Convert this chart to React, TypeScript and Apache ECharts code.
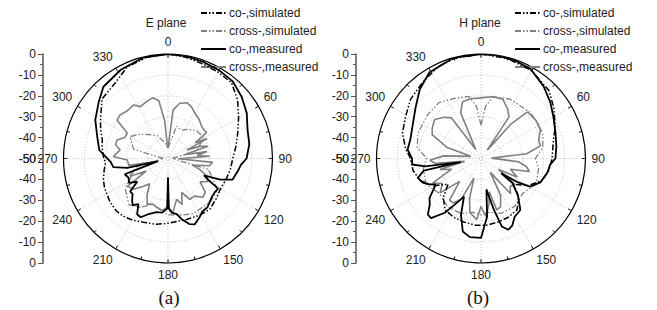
import React, { useEffect, useRef } from "react";
import * as echarts from "echarts";

// [angle (deg), level (dB)]
const coMeasA: number[][] = [
  [0, 0], [10, -0.3], [20, -0.8], [30, -1.2], [40, -1.8], [50, -4], [60, -6.5], [70, -9.5],
  [80, -10.5], [90, -12.4], [95, -15], [100, -16], [108, -17.5], [112, -23], [115, -31], [118, -28],
  [121, -22], [126, -22.4], [132, -22], [141, -20], [147, -19.8], [152, -18], [158, -16], [162, -17],
  [167, -20], [171, -23], [176, -24], [179, -26], [180, -41], [181, -26], [186, -24], [192, -23.8],
  [200, -21.5], [205, -19], [209, -19.5], [213, -24], [217, -22], [220, -23.3], [225, -26], [229, -26],
  [233, -31.6], [238, -28], [244, -29], [250, -28], [255, -45], [257, -30], [261, -23.5], [267, -22.4],
  [272, -20], [277, -16.9], [287, -14.6], [298, -10.6], [309, -7.3], [318, -3.8], [332, -1.9],
  [346, -0.3], [360, 0],
];
const coSimA: number[][] = [
  [0, 0], [10, -0.8], [20, -1.8], [30, -2.2], [40, -2.7], [50, -6.5], [60, -11], [70, -14.5],
  [80, -17], [90, -19], [100, -19.7], [110, -20.5], [120, -21], [130, -20], [140, -18.6], [150, -18.8],
  [163, -19.5], [180, -19], [190, -18], [201, -17.3], [210, -16], [218, -15], [225, -14.8], [233, -15.3],
  [245, -16.5], [252, -17.5], [260, -19], [266, -20], [272, -19], [280, -18], [286, -17.3], [293, -15],
  [300, -12.7], [312, -7.5], [325, -5.9], [336, -2], [348, -0.5], [360, 0],
];
const crossSimA: number[][] = [
  [0, -45], [15, -34], [25, -35], [35, -33], [45, -31], [60, -30], [75, -36], [90, -48], [105, -30],
  [122, -22], [135, -21], [155, -21], [165, -22], [180, -23], [198, -27], [210, -23], [220, -21],
  [235, -25], [255, -34], [270, -48], [285, -33], [300, -29], [310, -32], [320, -35], [335, -38],
  [348, -42], [360, -45],
];
const crossMeasA: number[][] = [
  [0, -45], [3, -45], [6, -26.6], [12, -23], [19, -21.8], [25, -23], [30, -24.6], [38, -26], [47, -27.8],
  [53, -28], [56, -27.7], [60, -35], [63, -29], [66, -40], [69, -33.8], [73, -30], [77, -42], [80, -31],
  [84, -36], [87, -30], [91, -45], [95, -28.6], [100, -30], [105, -38], [109, -34], [114, -30], [120, -28],
  [126, -31], [132, -26], [138, -25], [145, -28], [152, -27.8], [158, -32.5], [163, -27], [168, -30],
  [175, -24], [180, -27], [186, -25], [193, -26], [199, -27], [204.5, -26], [210, -30], [216, -35],
  [222, -32], [228, -28], [235.6, -26.4], [240, -38], [245, -30], [250, -32], [255, -45], [260, -31],
  [268, -30.5], [272, -23.8], [280, -26.7], [285, -24], [290, -24], [296, -27], [302, -27], [307, -19.5],
  [312, -19], [320, -20], [327, -19.5], [332, -21.9], [339, -21], [346, -20], [351, -22], [355, -32],
  [358, -45], [360, -45],
];

const coMeasB: number[][] = [
  [0, 0], [9, 0], [20, -0.5], [29, -1], [41, -4.3], [51, -7.3], [60, -10], [71, -12.3], [81, -13.5],
  [90, -14.4], [95, -16.8], [102, -17.5], [112, -19.4], [120, -23], [123, -29.5], [126, -38], [128, -31],
  [135, -25], [142.6, -19], [150, -17.8], [155, -14.6], [159, -13.5], [163, -16], [166, -25], [170, -35],
  [174, -22], [180, -12], [188, -12], [194, -14], [199.6, -21.4], [204, -30], [208, -26.5], [213.7, -18.8],
  [220, -12.8], [223.4, -13], [228, -17], [232.6, -19], [237, -23], [240, -25], [244, -22], [247.5, -19.8],
  [253, -18.4], [258, -22], [260, -40], [262, -23], [265, -17], [270, -17], [277, -14.6], [285, -15],
  [296.6, -13.5], [308, -10.3], [318.5, -5.8], [329, -2], [345, 0], [360, 0],
];
const coSimB: number[][] = [
  [0, 0], [15, -0.5], [30, -1.5], [45, -4], [55, -7.5], [66.6, -11.3], [77, -14.5], [90, -16], [100, -17],
  [110, -19], [120, -24], [128, -30], [136, -24], [145, -20], [155, -19], [165, -18.5], [175, -18],
  [185, -18], [195, -18.5], [205, -19], [215, -20], [224, -24], [232, -30], [240, -24], [250, -19],
  [260, -17], [271, -16], [277, -13.7], [288, -10.5], [299, -8.7], [310, -6], [322.7, -4], [335, -1.5],
  [345, -0.5], [360, 0],
];
const crossSimB: number[][] = [
  [0, -34], [5, -25], [11, -19.7], [26, -18.4], [47, -17.7], [60, -18], [70, -18.4], [80, -20], [90, -24],
  [100, -22], [115, -21], [130, -24], [145, -22], [160, -22], [172, -24], [180, -23], [188, -24],
  [200, -22], [215, -22], [230, -24], [245, -21], [260, -22], [270, -24], [280, -19], [292, -17.5],
  [309, -17], [323, -16.5], [335, -18.4], [349, -19.7], [355, -25], [360, -34],
];
const crossMeasB: number[][] = [
  [0, -21], [10, -20], [20, -19.7], [28, -23], [34, -26], [37, -45], [41, -28], [45, -18.5], [55, -18],
  [64, -18.4], [72, -21], [78, -21], [84, -28], [88, -45], [95, -32], [100, -28], [105, -26], [110, -35],
  [117, -30.6], [122, -40], [127, -30], [134, -30.6], [140, -28], [146, -42], [152, -30], [158, -25],
  [163, -24.3], [166, -33.6], [170, -28], [175, -22], [180, -27], [184, -20.7], [191.5, -23.5], [196, -30],
  [200, -40], [206, -28], [212, -25], [217, -25], [223, -35], [230, -24.4], [237, -28], [243, -24],
  [250, -35], [255, -29.6], [260, -42], [264, -28], [268, -25.5], [274, -32], [282, -45], [288, -33],
  [296, -24], [302, -22.5], [310, -21], [318, -23.5], [324, -26], [330, -45], [336, -26], [342, -21.5],
  [350, -21], [360, -21],
];

const legendNames = ["co-,simulated", "cross-,simulated", "co-,measured", "cross-,measured"];
const radialTicks = [-50, -40, -30, -20, -10, 0];
const angleStep = 30;

const FONT = "Liberation Sans, Arial, sans-serif";
const BLACK = "#000000";
const GRAY = "#808080";
const DASH = [6, 2, 1.5, 2, 1.5, 2];

const toPolar = (arr: number[][]) => arr.map(([a, v]) => [v, a]);

function plotSeries(idx: number, cs: number[][], cm: number[][], ks: number[][], km: number[][]) {
  const base = { type: "line", coordinateSystem: "polar", polarIndex: idx, symbol: "none", silent: true };
  return [
    { ...base, name: legendNames[1], data: toPolar(ks), lineStyle: { color: GRAY, width: 1.3, type: DASH }, itemStyle: { color: GRAY }, z: 2 },
    { ...base, name: legendNames[3], data: toPolar(km), lineStyle: { color: GRAY, width: 1.6 }, itemStyle: { color: GRAY }, z: 3 },
    { ...base, name: legendNames[0], data: toPolar(cs), lineStyle: { color: BLACK, width: 1.5, type: DASH }, itemStyle: { color: BLACK }, z: 4 },
    { ...base, name: legendNames[2], data: toPolar(cm), lineStyle: { color: BLACK, width: 1.8 }, itemStyle: { color: BLACK }, z: 5 },
  ];
}

export default function App() {
  const ref = useRef<HTMLDivElement>(null);
  useEffect(() => {
    if (!ref.current) return;
    const chart = echarts.init(ref.current, null, { renderer: "svg" });
    const centers = [[168, 158.5], [481, 158.5]];
    const axisX = [43, 356];
    const R = 104.5;
    const top = centers[0][1] - R;

    const polar = centers.map((c) => ({ center: c, radius: R }));
    const angleAxis = centers.map((_, i) => ({
      polarIndex: i,
      type: "value",
      min: 0,
      max: 360,
      interval: angleStep,
      startAngle: 90,
      clockwise: true,
      axisLine: { show: true, lineStyle: { color: BLACK, width: 1.2 } },
      axisTick: { show: true, inside: true, length: 4, lineStyle: { color: BLACK } },
      minorTick: { show: true, splitNumber: 2, length: 3, lineStyle: { color: BLACK } },
      axisLabel: {
        show: true,
        margin: 6,
        fontSize: 12,
        fontFamily: FONT,
        color: "#222",
        formatter: (v: number) => (v === 30 || v === 360 ? "" : String(v)),
      },
      splitLine: { show: true, lineStyle: { color: "#b0b0b0", width: 0.8, type: [1, 2] } },
    }));
    const radiusAxis = centers.map((_, i) => ({
      polarIndex: i,
      type: "value",
      min: radialTicks[0],
      max: radialTicks[radialTicks.length - 1],
      interval: 10,
      axisLine: { show: false },
      axisTick: { show: false },
      axisLabel: { show: false },
      splitLine: { show: true, lineStyle: { color: "#b0b0b0", width: 0.8, type: [1, 2] } },
    }));

    const grid: any[] = [];
    const xAxis: any[] = [];
    const yAxis: any[] = [];
    axisX.forEach((x) => {
      [false, true].forEach((inv) => {
        const gi = grid.length;
        grid.push({ left: x, width: 1, top: inv ? top + R : top, height: R });
        xAxis.push({ gridIndex: gi, type: "value", show: false });
        yAxis.push({
          gridIndex: gi,
          type: "value",
          min: -50,
          max: 0,
          interval: 10,
          inverse: inv,
          axisLine: { show: true, lineStyle: { color: "#555", width: 1.5 } },
          axisTick: { show: true, length: 5, lineStyle: { color: "#555" } },
          minorTick: { show: true, splitNumber: 2, length: 3, lineStyle: { color: "#555" } },
          axisLabel: { fontSize: 12, fontFamily: FONT, color: "#222", margin: 7 },
          splitLine: { show: false },
        });
      });
    });

    const legendCommon = {
      orient: "vertical",
      top: 7,
      padding: 0,
      itemWidth: 25,
      itemHeight: 8,
      itemGap: 6,
      data: legendNames,
      selectedMode: false,
      itemStyle: { opacity: 0, borderWidth: 0 },
      textStyle: { fontSize: 12, fontFamily: FONT, color: "#222", padding: [0, 0, 0, -2] },
    };

    chart.setOption({
      animation: false,
      backgroundColor: "#ffffff",
      polar,
      angleAxis,
      radiusAxis,
      grid,
      xAxis,
      yAxis,
      legend: [
        { ...legendCommon, left: 200 },
        { ...legendCommon, left: 514 },
      ],
      graphic: [
        { type: "text", x: 166, y: 23, style: { text: "E plane", font: `12px ${FONT}`, fill: "#222", textAlign: "center", textVerticalAlign: "middle" } },
        { type: "text", x: 480, y: 23, style: { text: "H plane", font: `12px ${FONT}`, fill: "#222", textAlign: "center", textVerticalAlign: "middle" } },
        { type: "text", x: 169, y: 297, style: { text: "(a)", font: `19px "Liberation Serif", "Times New Roman", serif`, fill: "#111", textAlign: "center", textVerticalAlign: "middle" } },
        { type: "text", x: 478, y: 297, style: { text: "(b)", font: `19px "Liberation Serif", "Times New Roman", serif`, fill: "#111", textAlign: "center", textVerticalAlign: "middle" } },
      ],
      series: [
        ...plotSeries(0, coSimA, coMeasA, crossSimA, crossMeasA),
        ...plotSeries(1, coSimB, coMeasB, crossSimB, crossMeasB),
      ],
    });
    return () => chart.dispose();
  }, []);
  return <div ref={ref} style={{ position: "fixed", left: 0, top: 0, width: 657, height: 310 }} />;
}
